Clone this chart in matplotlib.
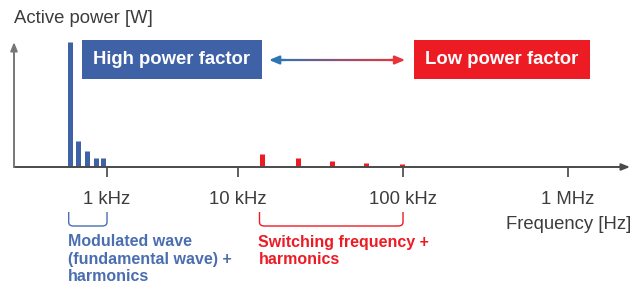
import matplotlib
matplotlib.use("Agg")
import matplotlib.pyplot as plt
import numpy as np
from matplotlib.collections import LineCollection
from matplotlib.path import Path
from matplotlib.patches import PathPatch
from matplotlib import colors as mcolors

plt.rcParams["font.family"] = ["Liberation Sans", "DejaVu Sans"]

# spectrum lines (frequency in Hz, relative active power)
blue_freq = [520, 600, 700, 820, 940]
blue_power = [1.0, 0.21, 0.13, 0.07, 0.07]
red_freq = [14e3, 23e3, 37e3, 60e3, 98e3]
red_power = [0.105, 0.072, 0.05, 0.033, 0.025]

tick_freq = [1e3, 1e4, 1e5, 1e6]
tick_labels = ["1 kHz", "10 kHz", "100 kHz", "1 MHz"]

BLUE = "#3f62a7"
RED = "#ed1c24"
GREY = "#3c3c3c"

# the picture squeezes the decade below 10 kHz
K = 131 / 165


def _fwd(f):
    lf = np.log10(np.maximum(f, 1e-300))
    return np.where(lf >= 4, lf, 4 - (4 - lf) * K)


def _inv(u):
    u = np.asarray(u, dtype=float)
    lf = np.where(u >= 4, u, 4 - (4 - u) / K)
    return 10.0 ** lf


fig = plt.figure(figsize=(6.44, 2.84), dpi=100)
ax = fig.add_axes([14 / 644, (284 - 167) / 284, 616 / 644, 125 / 284])
ax.set_xscale("function", functions=(_fwd, _inv))
ax.set_xlim(_inv(4 - 224 / 165), _inv(4 + 392 / 165))
ax.set_ylim(0, 1)

ax.vlines(blue_freq, 0, blue_power, colors=BLUE, lw=3.6, capstyle="butt")
ax.vlines(red_freq, 0, red_power, colors=RED, lw=3.6, capstyle="butt")

for s in ax.spines.values():
    s.set_visible(False)
ax.set_yticks([])
ax.set_xticks(tick_freq)
ax.set_xticklabels(tick_labels, fontsize=13.3, color=GREY)
ax.xaxis.set_minor_locator(matplotlib.ticker.NullLocator())
ax.tick_params(axis="x", direction="out", length=7.2, width=1.2, color="#444444", pad=10)

# axis arrows
ax.annotate("", xy=(1.0, 0), xytext=(0, 0), xycoords="axes fraction",
            arrowprops=dict(arrowstyle="-|>,head_length=0.5,head_width=0.2",
                            color="#4a4a4a", lw=1.4, shrinkA=0, shrinkB=0))
ax.annotate("", xy=(0, 1.0), xytext=(0, 0), xycoords="axes fraction",
            arrowprops=dict(arrowstyle="-|>,head_length=0.5,head_width=0.2",
                            color="#777777", lw=1.4, shrinkA=0, shrinkB=0))

ax.text(0, 1.152, "Active power [W]", transform=ax.transAxes, fontsize=13.3,
        color=GREY, ha="left", va="baseline")
ax.text(1.002, -0.496, "Frequency [Hz]", transform=ax.transAxes, fontsize=13.3,
        color=GREY, ha="right", va="baseline")

# labelled boxes
ax.text(0.2565, 0.86, "High power factor", transform=ax.transAxes, fontsize=13.3,
        fontweight="bold", color="white", ha="center", va="center",
        bbox=dict(boxstyle="square,pad=0.6", fc=BLUE, ec="none"))
ax.text(0.792, 0.86, "Low power factor", transform=ax.transAxes, fontsize=13.3,
        fontweight="bold", color="white", ha="center", va="center",
        bbox=dict(boxstyle="square,pad=0.6", fc=RED, ec="none"))

# gradient double arrow between the boxes
x0, x1, ya = 0.424, 0.625, 0.856
c0 = np.array(mcolors.to_rgb("#2e75b6"))
c1 = np.array(mcolors.to_rgb("#e8333a"))
xs = np.linspace(x0, x1, 60)
segs = [[(xs[i], ya), (xs[i + 1], ya)] for i in range(len(xs) - 1)]
cols = [c0 + (c1 - c0) * t for t in np.linspace(0, 1, len(segs))]
ax.add_collection(LineCollection(segs, colors=cols, lw=1.6, transform=ax.transAxes))
ax.annotate("", xy=(0.414, ya), xytext=(0.44, ya), xycoords="axes fraction",
            arrowprops=dict(arrowstyle="-|>,head_length=0.6,head_width=0.25",
                            color="#2e75b6", lw=1.6, shrinkA=0, shrinkB=0))
ax.annotate("", xy=(0.635, ya), xytext=(0.61, ya), xycoords="axes fraction",
            arrowprops=dict(arrowstyle="-|>,head_length=0.6,head_width=0.25",
                            color="#e8333a", lw=1.6, shrinkA=0, shrinkB=0))


def _bracket(f0, f1, color):
    tr = ax.get_xaxis_transform()
    u0, u1 = _fwd(f0), _fwd(f1)
    a, b = _inv(u0 + 0.03), _inv(u1 - 0.03)
    top, bot = -0.36, -0.472
    verts = [(f0, top), (f0, bot + 0.03), (f0, bot), (a, bot),
             (b, bot), (f1, bot), (f1, bot + 0.03), (f1, top)]
    codes = [Path.MOVETO, Path.LINETO, Path.CURVE3, Path.CURVE3,
             Path.LINETO, Path.CURVE3, Path.CURVE3, Path.LINETO]
    ax.add_patch(PathPatch(Path(verts, codes), fc="none", ec=color, lw=1.0,
                           transform=tr, clip_on=False))


_bracket(510, 1000, "#4a6eb0")
_bracket(13.5e3, 1e5, RED)

tr = ax.get_xaxis_transform()
ax.text(500, -0.54, "Modulated wave\n(fundamental wave) +\nharmonics", transform=tr,
        fontsize=11.5, fontweight="bold", color="#4a6eb0", ha="left", va="top",
        linespacing=1.17)
ax.text(13.3e3, -0.54, "Switching frequency +\nharmonics", transform=tr,
        fontsize=11.5, fontweight="bold", color=RED, ha="left", va="top",
        linespacing=1.17)

fig.savefig("out.png", dpi=100)
